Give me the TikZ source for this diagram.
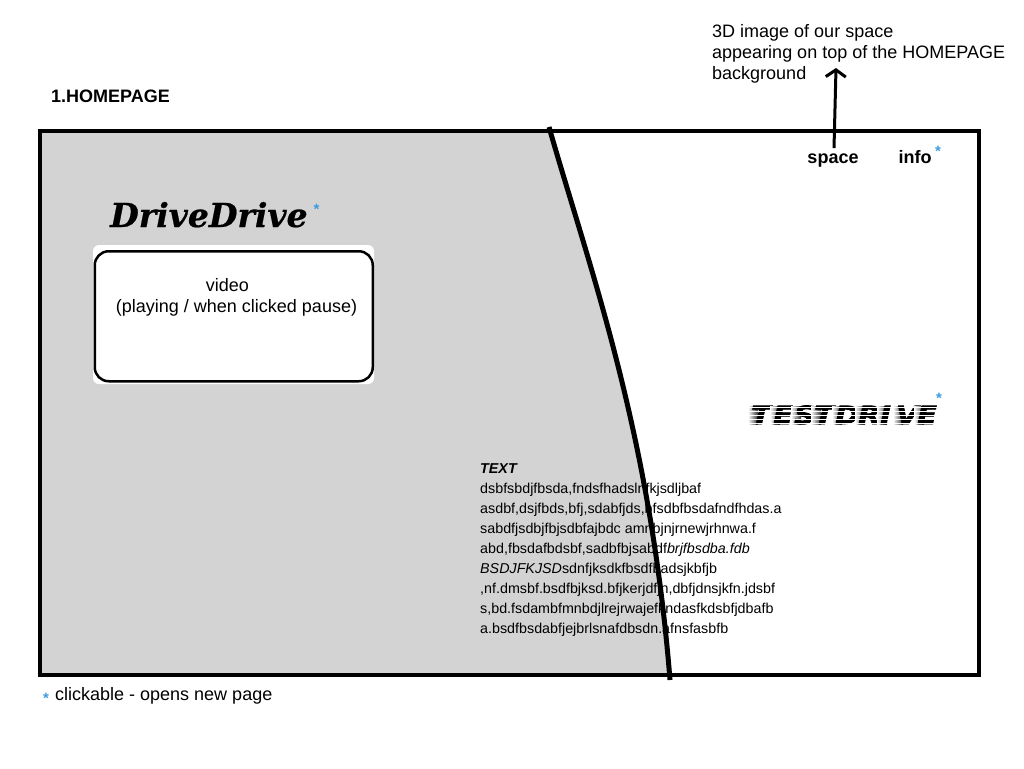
\documentclass[tikz,border=0pt]{standalone}
\usepackage{fontspec}
\setmainfont{Liberation Sans}
\newfontfamily\logofont[BoldItalicFeatures={FakeBold=0.6}]{DejaVu Serif}
\newfontfamily\streakfont[BoldItalicFeatures={FakeBold=3,FakeStretch=1.15}]{DejaVu Sans}
\usetikzlibrary{arrows.meta}
\definecolor{panelgrey}{HTML}{D3D3D3}
\definecolor{clickblue}{HTML}{3F9BDD}
\tikzset{
  label/.style={inner sep=0pt,anchor=base west,font=\fontsize{18pt}{21pt}\selectfont,align=left},
  navlabel/.style={inner sep=0pt,anchor=base,font=\bfseries\fontsize{18pt}{20pt}\selectfont},
  star/.style={inner sep=0pt,text=clickblue,font=\bfseries\fontsize{15pt}{15pt}\selectfont}
}
\begin{document}
\begin{tikzpicture}[x=1pt,y=-1pt,>={Straight Barb[length=7pt,width=20pt]}]

  \useasboundingbox (0,0) rectangle (1024,768);

  \fill[panelgrey] (40,131) -- (549,131) .. controls (590,270) and (650,430) .. (670,675) -- (40,675) -- cycle;

  \node[label,font=\bfseries\fontsize{18pt}{20pt}\selectfont] (title) at (51,102) {1.HOMEPAGE};
  \node[label] (note) at (712,79.2) {3D image of our space\\appearing on top of the HOMEPAGE\\background};
  \node[navlabel] (space) at (833,163) {space};
  \node[navlabel] (info) at (915,163) {info};
  \node[star] (infostar) at (938,151) {*};
  \coordinate (notepoint) at (836,68);

  \node[inner sep=0pt,anchor=base west,font=\logofont\bfseries\itshape\fontsize{33pt}{33pt}\selectfont] (logo) at (110,227) {DriveDrive};
  \node[star] (logostar) at (316.5,209) {*};

  \fill[white,rounded corners=6pt] (93,245) rectangle (374,384);
  \node[draw,line width=2.5pt,fill=white,rounded corners=14pt,minimum width=278pt,minimum height=130pt,anchor=north west,inner sep=0pt] (videobox) at (93.5,250) {};
  \node[inner sep=0pt,anchor=base,font=\fontsize{18pt}{21pt}\selectfont,align=center] (video) at (236.5,312) {video\hspace{18pt}\null\\(playing / when clicked pause)};

  \foreach \ch/\px in {T/751,E/773,S/794,T/814,D/835,R/858,I/880,V/896,E/917}{
    \shade[left color=white,right color=black!80] (\px-3,406) rectangle (\px+7,424);
    \node[inner sep=0pt,anchor=base west,font=\streakfont\bfseries\itshape\fontsize{25pt}{25pt}\selectfont] (drive\px) at (\px,424) {\ch};
  }
  \foreach \py in {407,411,415,419,423}{
    \draw[white,line width=.9pt] (746,\py) -- (942,\py);
  }
  \node[star] (drivestar) at (939,398) {*};

  \node[inner sep=0pt,anchor=base west,font=\fontsize{14.3pt}{20pt}\selectfont,align=left] (body) at (480,633) {\textbf{\textit{TEXT}}\\
    dsbfsbdjfbsda,fndsfhadslnfkjsdljbaf\\
    asdbf,dsjfbds,bfj,sdabfjds,bfsdbfbsdafndfhdas.a\\
    sabdfjsdbjfbjsdbfajbdc amnbjnjrnewjrhnwa.f\\
    abd,fbsdafbdsbf,sadbfbjsabdf\textit{brjfbsdba.fdb}\\
    \textit{BSDJFKJSD}sdnfjksdkfbsdfbadsjkbfjb\\
    ,nf.dmsbf.bsdfbjksd.bfjkerjdfjn,dbfjdnsjkfn.jdsbf\\
    s,bd.fsdambfmnbdjlrejrwajefkndasfkdsbfjdbafb\\
    a.bsdfbsdabfjejbrlsnafdbsdn.afnsfasbfb};

  \draw[line width=4pt] (40,131) rectangle (979,675);
  \draw[line width=5pt] (549,127) .. controls (590,270) and (650,430) .. (670,680);
  \draw[->,line width=3pt] (space.north) ++(1,-5) -- (notepoint);

  \node[star] (legendstar) at (46,698) {*};
  \node[label] (legend) at (55,700) {clickable - opens new page};

\end{tikzpicture}
\end{document}
